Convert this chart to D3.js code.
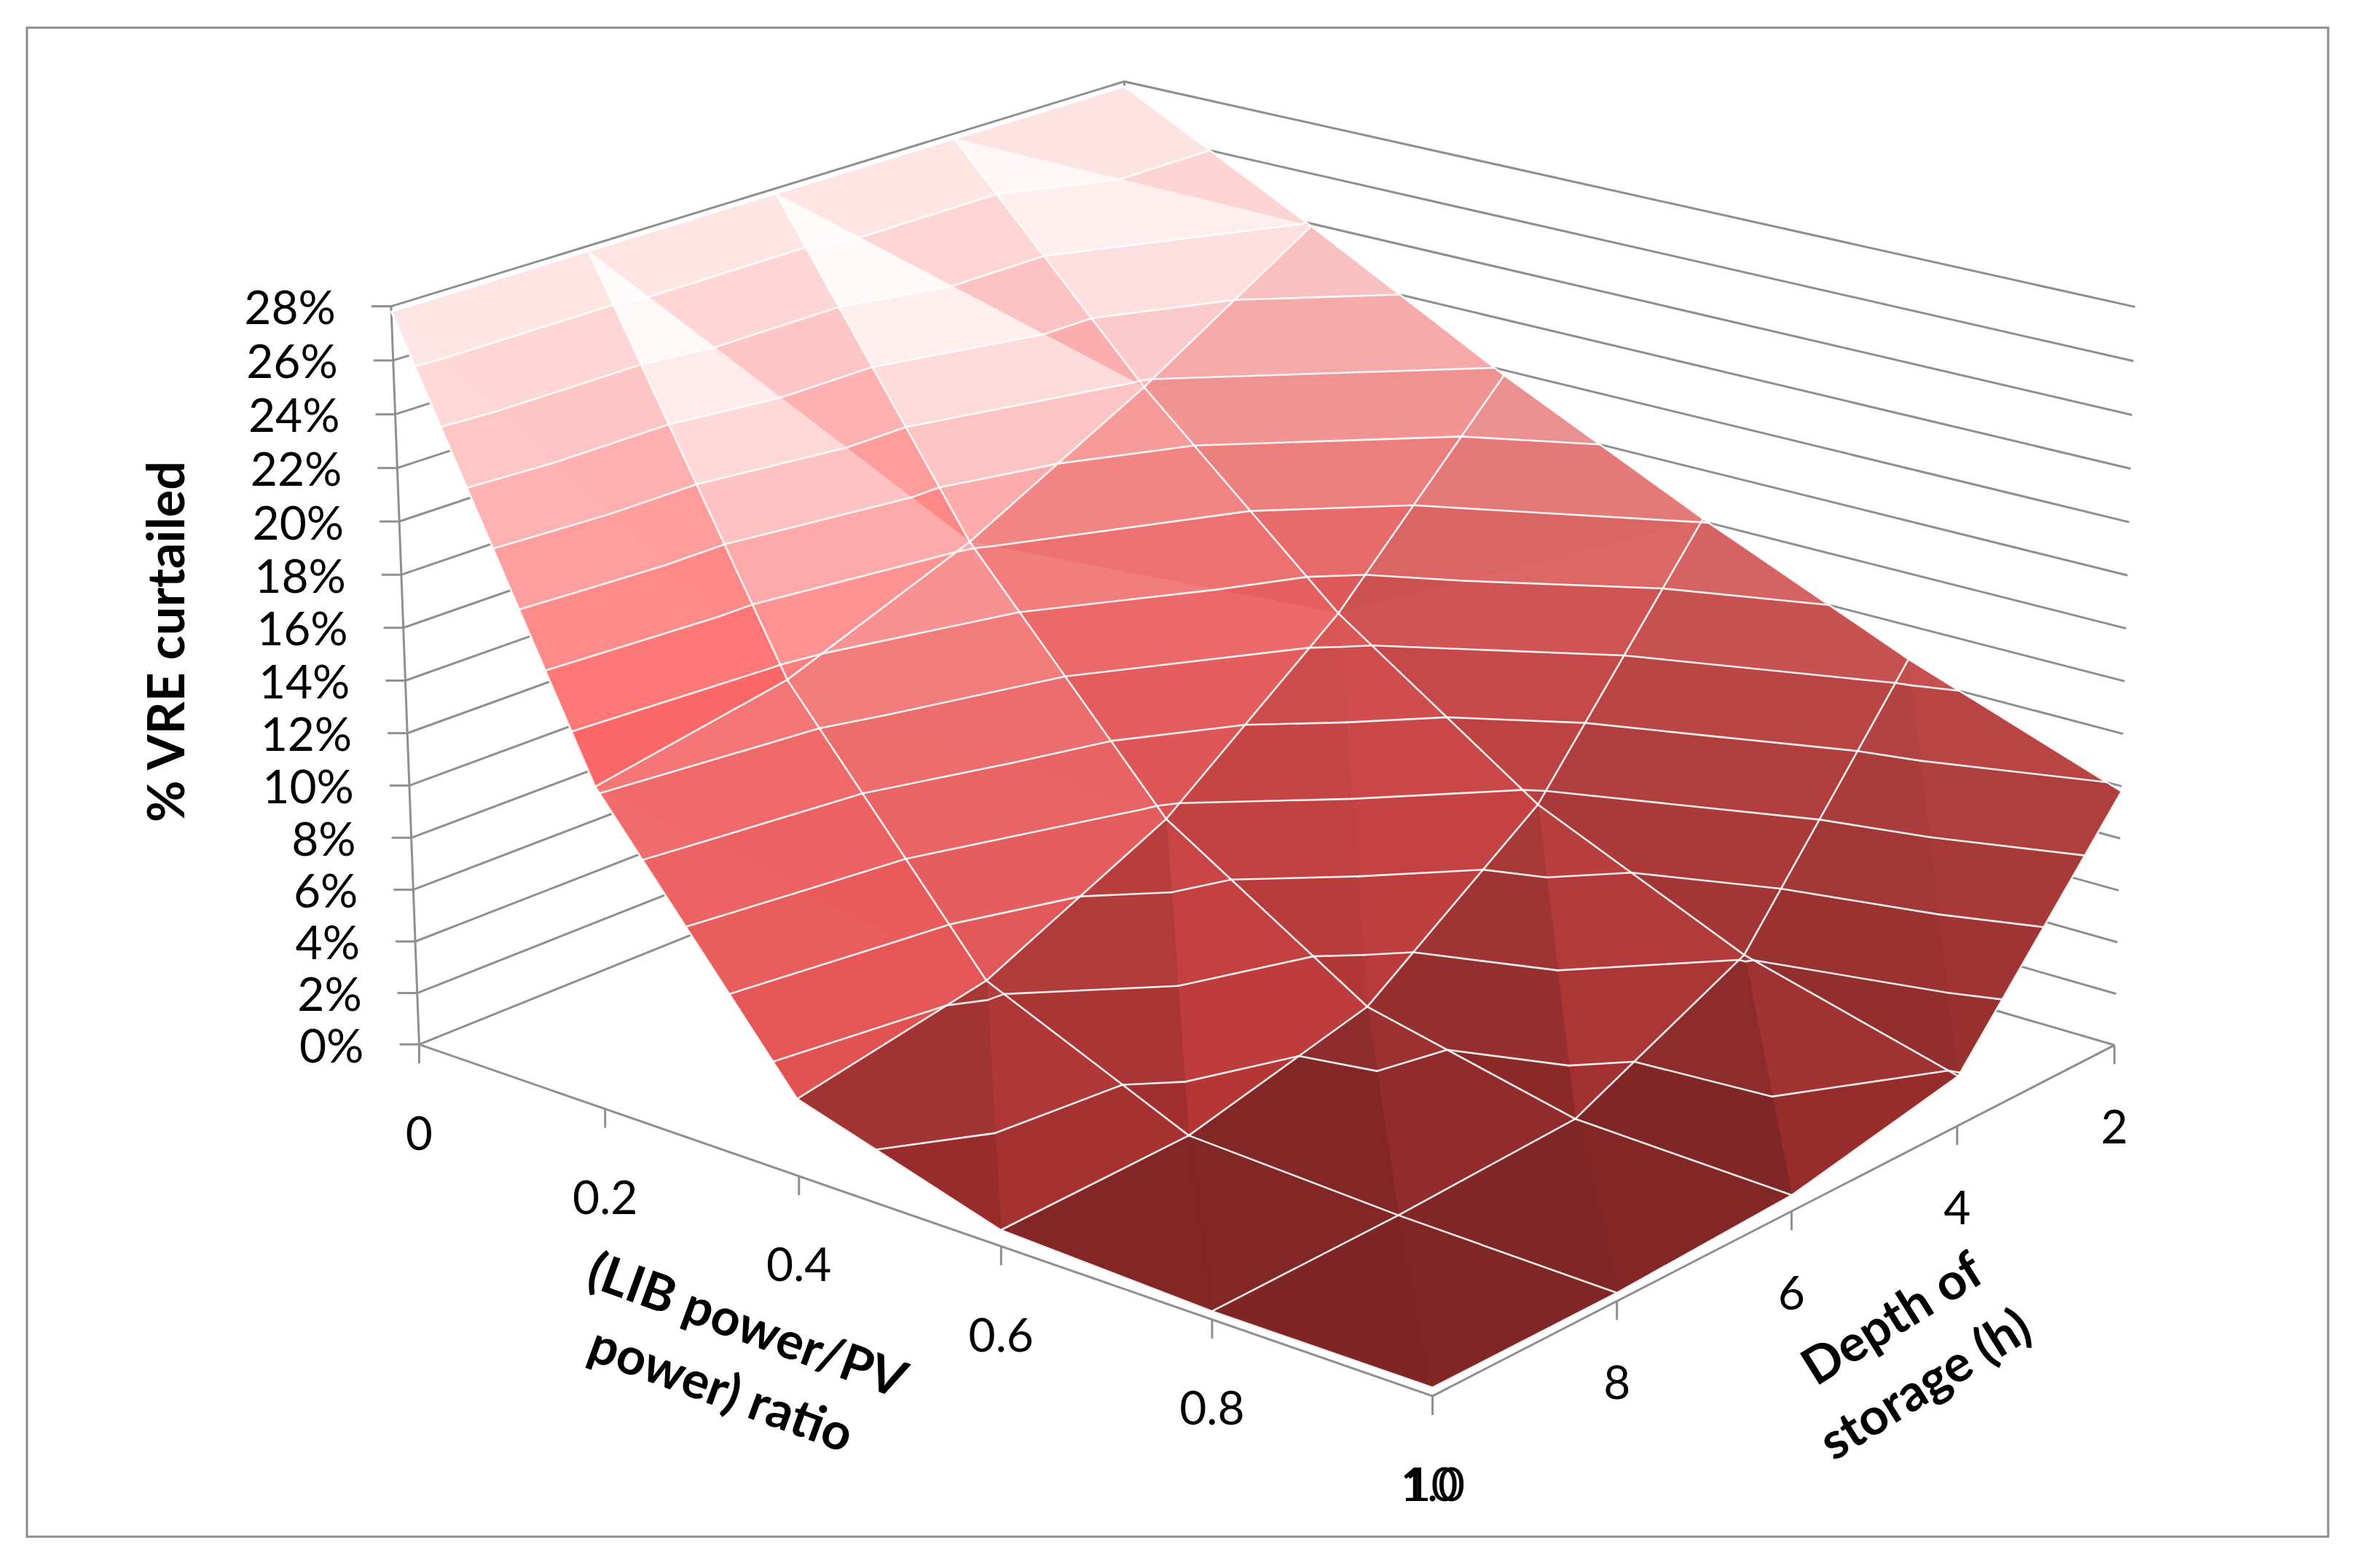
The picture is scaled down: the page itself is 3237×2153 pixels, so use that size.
<!DOCTYPE html>
<html lang="en">
<head>
<meta charset="UTF-8" />
<title>% VRE curtailed</title>
<script src="https://cdn.jsdelivr.net/npm/d3@7"></script>
<style>
    body { margin: 0; background: #fff; }
    text { font-family: Lato, "Open Sans", "Liberation Sans", sans-serif; fill: #000; }
</style>
</head>
<body>
<svg id="chart"></svg>
<script>
// ---- data -----------------------------------------------------------
const ratios = [0, 0.2, 0.4, 0.6, 0.8, 1.0];          // LIB power / PV power
const depths = [2, 4, 6, 8, 10];                     // depth of storage (h)
const ratioLabels = ["0", "0.2", "0.4", "0.6", "0.8", "1.0"];
const depthLabels = ["2", "4", "6", "8", "10"];
const valueTicks = [0, 0.02, 0.04, 0.06, 0.08, 0.10, 0.12, 0.14, 0.16, 0.18, 0.20, 0.22, 0.24, 0.26, 0.28];

// % VRE curtailed, one series per ratio, values for depth 2,4,6,8,10 h
const ratio00 = [0.278, 0.278, 0.278, 0.278, 0.278];
const ratio02 = [0.239, 0.198, 0.162, 0.135, 0.122];
const ratio04 = [0.198, 0.129, 0.076, 0.043, 0.029];
const ratio06 = [0.161, 0.076, 0.027, 0.009, 0.006];
const ratio08 = [0.127, 0.041, 0.009, 0.005, 0.003];
const ratio10 = [0.098, 0.019, 0.006, 0.003, 0.003];
const series = [ratio00, ratio02, ratio04, ratio06, ratio08, ratio10];

// ---- layout ---------------------------------------------------------
const W = 3237, H = 2153;

// band fills, lowest band first (2% wide bands)
const bandColors = ["#e84444", "#ec4a4a", "#ef4e4e", "#f25252", "#f55656", "#f85c5c", "#fc6666",
                    "#ff7676", "#ff8888", "#ff9c9c", "#ffb0b0", "#ffc4c4", "#ffd6d6", "#ffe4e4"];

const xScale = d3.scaleLinear().domain([0, 1]).range([0, 1]);
const dScale = d3.scaleLinear().domain([2, 10]).range([0, 1]);
const zScale = d3.scaleLinear().domain([0, 0.28]).range([0, 1]);

// where the corners of the 3-D box sit on the page (u = ratio, v = depth, w = value)
const boxAnchors = [
    { u: 0, v: 1, w: 0, px: [575, 1435] },
    { u: 0, v: 1, w: 1, px: [536, 423] },
    { u: 1, v: 1, w: 0, px: [1968, 1917] },
    { u: 1, v: 0, w: 0, px: [2901, 1437] },
    { u: 1, v: 0, w: 1, px: [2930, 420] },
    { u: 0, v: 0, w: 1, px: [1545, 111] },
    { u: 0.4, v: 1, w: 0, px: [1096, 1611] },
    { u: 1, v: 0.5, w: 0, px: [2461, 1664] }
];

// least squares fit of a perspective camera through the anchors
function fitCamera(pts) {
    const n = 11;
    const M = Array.from({ length: n }, () => new Array(n + 1).fill(0));
    const add = (row, rhs) => {
        for (let i = 0; i < n; i++) {
            for (let j = 0; j < n; j++) M[i][j] += row[i] * row[j];
            M[i][n] += row[i] * rhs;
        }
    };
    pts.forEach(({ u, v, w, px }) => {
        const X = px[0] / 1000, Y = px[1] / 1000;
        add([u, v, w, 1, 0, 0, 0, 0, -X * u, -X * v, -X * w], X);
        add([0, 0, 0, 0, u, v, w, 1, -Y * u, -Y * v, -Y * w], Y);
    });
    for (let c = 0; c < n; c++) {
        let piv = c;
        for (let r = c + 1; r < n; r++) if (Math.abs(M[r][c]) > Math.abs(M[piv][c])) piv = r;
        [M[c], M[piv]] = [M[piv], M[c]];
        for (let r = 0; r < n; r++) {
            if (r === c) continue;
            const f = M[r][c] / M[c][c];
            for (let k = c; k <= n; k++) M[r][k] -= f * M[c][k];
        }
    }
    return M.map((row, i) => row[n] / row[i]);
}
const P = fitCamera(boxAnchors);

function project(u, v, w) {
    const den = P[8] * u + P[9] * v + P[10] * w + 1;
    return [
        (P[0] * u + P[1] * v + P[2] * w + P[3]) / den * 1000,
        (P[4] * u + P[5] * v + P[6] * w + P[7]) / den * 1000,
        den
    ];
}
const pt = p => project(p.u, p.v, p.w).slice(0, 2);
const xy = (u, v, w) => project(u, v, w).slice(0, 2);

const svg = d3.select("#chart").attr("width", W).attr("height", H);
svg.append("rect").attr("width", W).attr("height", H).attr("fill", "#fff");
svg.append("rect")
    .attr("x", 37).attr("y", 38).attr("width", 3159).attr("height", 2072)
    .attr("fill", "none").attr("stroke", "#8c8c8c").attr("stroke-width", 3);

const line = d3.line();

// ---- walls, gridlines, axes ----------------------------------------
const frame = svg.append("g").attr("fill", "none").attr("stroke", "#8f8f8f").attr("stroke-width", 3);

valueTicks.forEach(t => {
    const w = zScale(t);
    frame.append("path").attr("d", line([xy(0, 1, w), xy(0, 0, w), xy(1, 0, w)]));
});
frame.append("path").attr("d", line([xy(0, 0, 0), xy(0, 0, 1)]));
frame.append("path").attr("d", line([xy(0, 1, 0), xy(0, 1, 1)]));
frame.append("path").attr("d", line([xy(0, 1, 0), xy(1, 1, 0), xy(1, 0, 0)]));

// value axis ticks + labels
const pct = d3.format(".0%");
valueTicks.forEach(t => {
    const [x, y] = xy(0, 1, zScale(t));
    frame.append("line").attr("x1", x).attr("y1", y).attr("x2", x - 27).attr("y2", y);
    svg.append("text")
        .attr("x", x - 76).attr("y", y)
        .attr("text-anchor", "end").attr("dominant-baseline", "central")
        .attr("font-size", 64)
        .text(pct(t));
});

// ratio axis ticks + labels (along the front-left edge)
ratios.forEach((r, i) => {
    const [x, y] = xy(xScale(r), 1, 0);
    frame.append("line").attr("x1", x).attr("y1", y).attr("x2", x).attr("y2", y + 26);
    svg.append("text")
        .attr("x", x).attr("y", y + 120)
        .attr("text-anchor", "middle").attr("dominant-baseline", "central")
        .attr("font-size", 64)
        .text(ratioLabels[i]);
});

// depth axis ticks + labels (along the front-right edge)
depths.forEach((d, j) => {
    const [x, y] = xy(1, dScale(d), 0);
    const corner = dScale(d) === 1;             // shares the front corner with ratio 1.0
    frame.append("line").attr("x1", x).attr("y1", y).attr("x2", x).attr("y2", y + 26);
    svg.append("text")
        .attr("x", x + (corner ? -2 : 0)).attr("y", y + (corner ? 120 : 110))
        .attr("text-anchor", "middle").attr("dominant-baseline", "central")
        .attr("font-size", 64)
        .text(depthLabels[j]);
});

// axis titles
const title = (x, y, angle, str) => svg.append("text")
    .attr("transform", `translate(${x},${y}) rotate(${angle})`)
    .attr("text-anchor", "middle").attr("dominant-baseline", "central")
    .attr("font-size", 70).attr("font-weight", "bold")
    .text(str);
title(226, 881, -90, "% VRE curtailed");
title(1027, 1817, 20, "(LIB power/PV");
title(991, 1905, 20, "power) ratio");
title(2596, 1808, -32, "Depth of");
title(2641, 1898, -32, "storage (h)");

// ---- surface --------------------------------------------------------
const metric = [1, 0.81, 0.62];
const normv = a => { const l = Math.hypot(...a); return a.map(c => c / l); };
const dot = (a, b) => a[0] * b[0] + a[1] * b[1] + a[2] * b[2];
const light = normv([0.944, 0, 0.33]);
const glint = normv([0.744, 0.236, 0.612]);

const nodes = series.map((row, i) => row.map((val, j) => ({
    u: xScale(ratios[i]), v: dScale(depths[j]), w: zScale(val), val
})));

const lerp = (p, q, t) => ({
    u: p.u + (q.u - p.u) * t, v: p.v + (q.v - p.v) * t,
    w: p.w + (q.w - p.w) * t, val: p.val + (q.val - p.val) * t
});

function clip(poly, level, keepAbove) {
    const out = [];
    poly.forEach((p, k) => {
        const q = poly[(k + 1) % poly.length];
        const pin = keepAbove ? p.val >= level : p.val <= level;
        const qin = keepAbove ? q.val >= level : q.val <= level;
        if (pin) out.push(p);
        if (pin !== qin) out.push(lerp(p, q, (level - p.val) / (q.val - p.val)));
    });
    return out;
}

// light colours keep their tint, deep reds take most of the shading
function shade(k, n) {
    const base = d3.rgb(bandColors[k]);
    const lum = d3.hsl(base).l;
    const d = Math.max(0, dot(n, light));
    const f = Math.min(1, 0.45 + 0.6 * d * d);
    const dark = Math.min(0.6, (1 - f) * 5.5 * (1 - lum) * (1 - lum));
    const hi = Math.min(1, Math.max(0, (dot(n, glint) - 0.97) / 0.02));
    const white = Math.min(0.85, 1.5 * Math.pow(lum, 6) * Math.pow(hi, 1.5));
    const c = ch => { const v = ch * (1 - dark); return v + (255 - v) * white; };
    return d3.rgb(c(base.r), c(base.g), c(base.b)).formatHex();
}

const tris = [];
for (let i = 0; i < ratios.length - 1; i++) {
    for (let j = 0; j < depths.length - 1; j++) {
        const a = nodes[i][j], b = nodes[i + 1][j], c = nodes[i][j + 1], e = nodes[i + 1][j + 1];
        if (a.val + e.val >= b.val + c.val) tris.push([a, b, e], [a, e, c]);
        else tris.push([a, b, c], [b, e, c]);
    }
}

const faces = tris.map(tri => {
    const m = tri.map(p => [p.u * metric[0], p.v * metric[1], p.w * metric[2]]);
    const e1 = m[1].map((c, i) => c - m[0][i]), e2 = m[2].map((c, i) => c - m[0][i]);
    let n = normv([e1[1] * e2[2] - e1[2] * e2[1], e1[2] * e2[0] - e1[0] * e2[2], e1[0] * e2[1] - e1[1] * e2[0]]);
    if (n[2] < 0) n = n.map(c => -c);
    const depth = d3.mean(tri, p => project(p.u, p.v, p.w)[2]);
    const bands = [];
    bandColors.forEach((col, k) => {
        const poly = clip(clip(tri, valueTicks[k], true), valueTicks[k + 1], false);
        if (poly.length >= 3) bands.push({ poly, color: shade(k, n) });
    });
    return { tri, depth, bands };
}).sort((a, b) => b.depth - a.depth);

const surf = svg.append("g").attr("stroke-linejoin", "round");
faces.forEach(f => f.bands.forEach(b => {
    surf.append("path")
        .attr("d", line(b.poly.map(pt)) + "Z")
        .attr("fill", b.color).attr("stroke", b.color).attr("stroke-width", 1.2);
}));

// white contour and mesh lines
const wire = svg.append("g").attr("fill", "none").attr("stroke", "#fff")
    .attr("stroke-width", 2.6).attr("stroke-opacity", 0.9).attr("stroke-linecap", "round");
faces.forEach(f => {
    valueTicks.slice(1, -1).forEach(level => {
        const hits = [];
        f.tri.forEach((p, k) => {
            const q = f.tri[(k + 1) % 3];
            if ((p.val - level) * (q.val - level) < 0) hits.push(lerp(p, q, (level - p.val) / (q.val - p.val)));
        });
        if (hits.length === 2) wire.append("path").attr("d", line(hits.map(pt)));
    });
});
nodes.forEach((row, i) => row.forEach((p, j) => {
    if (i + 1 < nodes.length) wire.append("path").attr("d", line([p, nodes[i + 1][j]].map(pt)));
    if (j + 1 < row.length) wire.append("path").attr("d", line([p, row[j + 1]].map(pt)));
}));
</script>
</body>
</html>
